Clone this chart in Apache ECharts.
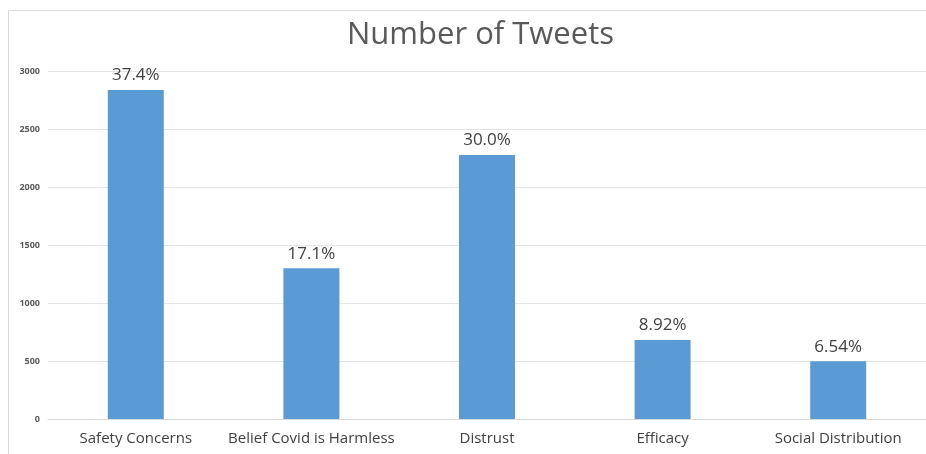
<!DOCTYPE html>
<html>
<head>
<meta charset="utf-8">
<script src="https://cdn.jsdelivr.net/npm/echarts@6/dist/echarts.min.js"></script>
<style>
  html, body { margin: 0; padding: 0; background: #ffffff; }
  #chart { width: 926px; height: 454px; }
</style>
</head>
<body>
<div id="chart"></div>
<script>
// Tweet counts per theme, with each theme's share of all tweets
const categories = ['Safety Concerns', 'Belief Covid is Harmless', 'Distrust', 'Efficacy', 'Social Distribution'];
const tweetCounts = [2836, 1300, 2276, 680, 497];
const shareLabels = ['37.4%', '17.1%', '30.0%', '8.92%', '6.54%'];
const yTicks = [0, 500, 1000, 1500, 2000, 2500, 3000];

const chart = echarts.init(document.getElementById('chart'));

chart.setOption({
  backgroundColor: '#ffffff',
  animation: false,
  title: {
    text: 'Number of Tweets',
    left: 342,
    top: 15,
    textStyle: {
      fontFamily: 'Open Sans',
      fontSize: 31,
      fontWeight: 'normal',
      color: '#595959'
    }
  },
  graphic: [{
    type: 'polyline',
    silent: true,
    shape: { points: [[8.5, 454], [8.5, 10.5], [926, 10.5]] },
    style: { fill: 'none', stroke: '#d9d9d9', lineWidth: 1 }
  }],
  grid: { left: 48, right: -2, top: 71, bottom: 35 },
  xAxis: {
    type: 'category',
    data: categories,
    axisLine: { show: true, lineStyle: { color: '#d9d9d9' } },
    axisTick: { show: false },
    axisLabel: {
      margin: 12,
      fontFamily: 'Open Sans',
      fontSize: 15,
      color: '#404040',
      interval: 0
    }
  },
  yAxis: {
    type: 'value',
    min: yTicks[0],
    max: yTicks[yTicks.length - 1],
    interval: 500,
    axisLine: { show: false },
    axisTick: { show: false },
    axisLabel: {
      margin: 8,
      fontFamily: 'Open Sans',
      fontSize: 9,
      fontWeight: 'bold',
      color: '#595959',
      formatter: v => String(v)
    },
    splitLine: { lineStyle: { color: '#e4e4e4', width: 1 } }
  },
  series: [{
    type: 'bar',
    data: tweetCounts,
    barWidth: 56,
    itemStyle: { color: '#5b9bd5' },
    label: {
      show: true,
      position: 'top',
      distance: 6,
      fontFamily: 'Open Sans',
      fontSize: 17,
      color: '#404040',
      formatter: p => shareLabels[p.dataIndex]
    }
  }]
});
</script>
</body>
</html>
